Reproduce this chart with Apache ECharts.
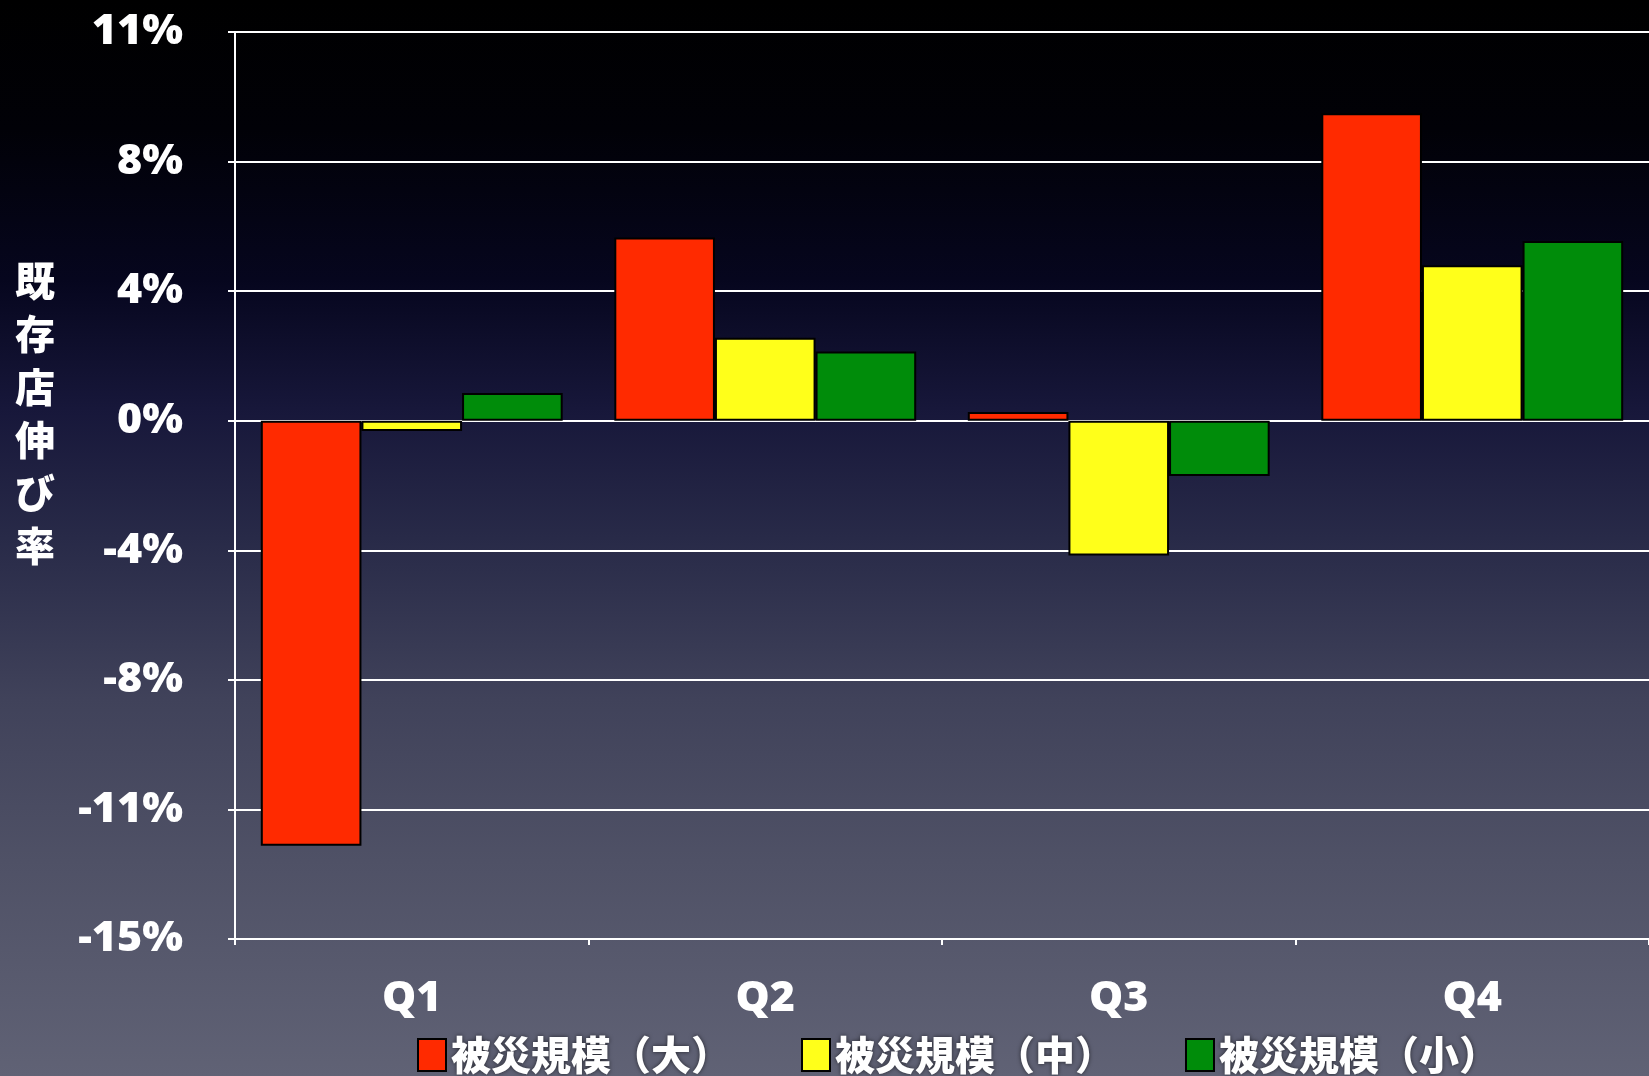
<!DOCTYPE html>
<html>
<head>
<meta charset="utf-8">
<script src="https://cdn.jsdelivr.net/npm/echarts@6/dist/echarts.min.js"></script>
<style>
  html, body { margin: 0; padding: 0; width: 100%; height: 100%; overflow: hidden; }
  #chart { width: 1649px; height: 1076px; }
</style>
</head>
<body>
<div id="chart"></div>
<script>
// Quarters on the category axis
const quarters = ['Q1', 'Q2', 'Q3', 'Q4'];

// Existing-store growth rate (%) by disaster scale
const seriesNames = ['被災規模（大）', '被災規模（中）', '被災規模（小）'];
const largeDamage = [-12.3, 5.3, 0.25, 8.9];
const mediumDamage = [-0.3, 2.4, -3.9, 4.5];
const smallDamage = [0.8, 2.0, -1.6, 5.2];

// Value axis range and step (labels shown rounded)
const yMin = -15;
const yMax = 11.25;
const yStep = 3.75;

const barColors = ['#ff2a00', '#ffff1a', '#008c0a'];

const chart = echarts.init(document.getElementById('chart'));

const fontLatin = '"Open Sans", "Noto Sans", sans-serif';
const fontCJK = '"Noto Sans CJK JP", "Noto Sans", sans-serif';

function pct(v) {
  const r = Math.round(Math.abs(v));
  return (v < 0 && r !== 0 ? '-' : '') + r + '%';
}

const seriesData = [largeDamage, mediumDamage, smallDamage];

chart.setOption({
  backgroundColor: {
    type: 'linear', x: 0, y: 0, x2: 0, y2: 1,
    colorStops: [
      { offset: 0, color: '#000000' },
      { offset: 0.12, color: '#010107' },
      { offset: 0.26, color: '#06061e' },
      { offset: 0.38, color: '#17173a' },
      { offset: 0.5, color: '#282a48' },
      { offset: 0.65, color: '#40425a' },
      { offset: 0.8, color: '#4f5166' },
      { offset: 1, color: '#606275' }
    ]
  },
  animation: false,
  grid: { left: 235, top: 32, width: 1420, height: 907 },
  xAxis: {
    type: 'category',
    data: quarters,
    axisLine: { onZero: false, lineStyle: { color: '#ffffff', width: 2 } },
    axisTick: { show: true, length: 6, lineStyle: { color: '#ffffff', width: 2 } },
    axisLabel: {
      color: '#ffffff', fontSize: 43, fontWeight: 800, fontFamily: fontLatin, margin: 38
    },
    splitLine: { show: false }
  },
  yAxis: {
    type: 'value',
    min: yMin, max: yMax, interval: yStep,
    axisLine: { show: true, lineStyle: { color: '#ffffff', width: 2 } },
    axisTick: { show: true, length: 7, lineStyle: { color: '#ffffff', width: 2 } },
    axisLabel: {
      color: '#ffffff', fontSize: 43, fontWeight: 800, fontFamily: fontLatin, margin: 52,
      padding: [4, 0, 0, 0],
      formatter: pct
    },
    splitLine: { show: true, lineStyle: { color: '#ffffff', width: 2 } }
  },
  legend: {
    left: 412, top: 1030,
    itemWidth: 28, itemHeight: 32, itemGap: 70,
    icon: 'rect',
    textStyle: {
      color: '#ffffff', fontSize: 40, fontWeight: 900, fontFamily: fontCJK,
      textShadowColor: 'rgba(0,0,0,0.6)', textShadowBlur: 4, padding: [0, 0, 0, 0]
    },
    data: seriesNames
  },
  graphic: [{
    type: 'text',
    left: 15, top: 254,
    style: {
      text: '既\n存\n店\n伸\nび\n率',
      fill: '#ffffff',
      font: '900 40px "Noto Sans CJK JP", sans-serif',
      lineHeight: 53,
      align: 'left'
    }
  }],
  series: seriesNames.map((name, i) => ({
    name,
    type: 'bar',
    data: seriesData[i],
    barGap: '0%',
    barCategoryGap: '14.6%',
    itemStyle: { color: barColors[i], borderColor: '#000000', borderWidth: 2 },
    emphasis: { disabled: true }
  }))
});
</script>
</body>
</html>
